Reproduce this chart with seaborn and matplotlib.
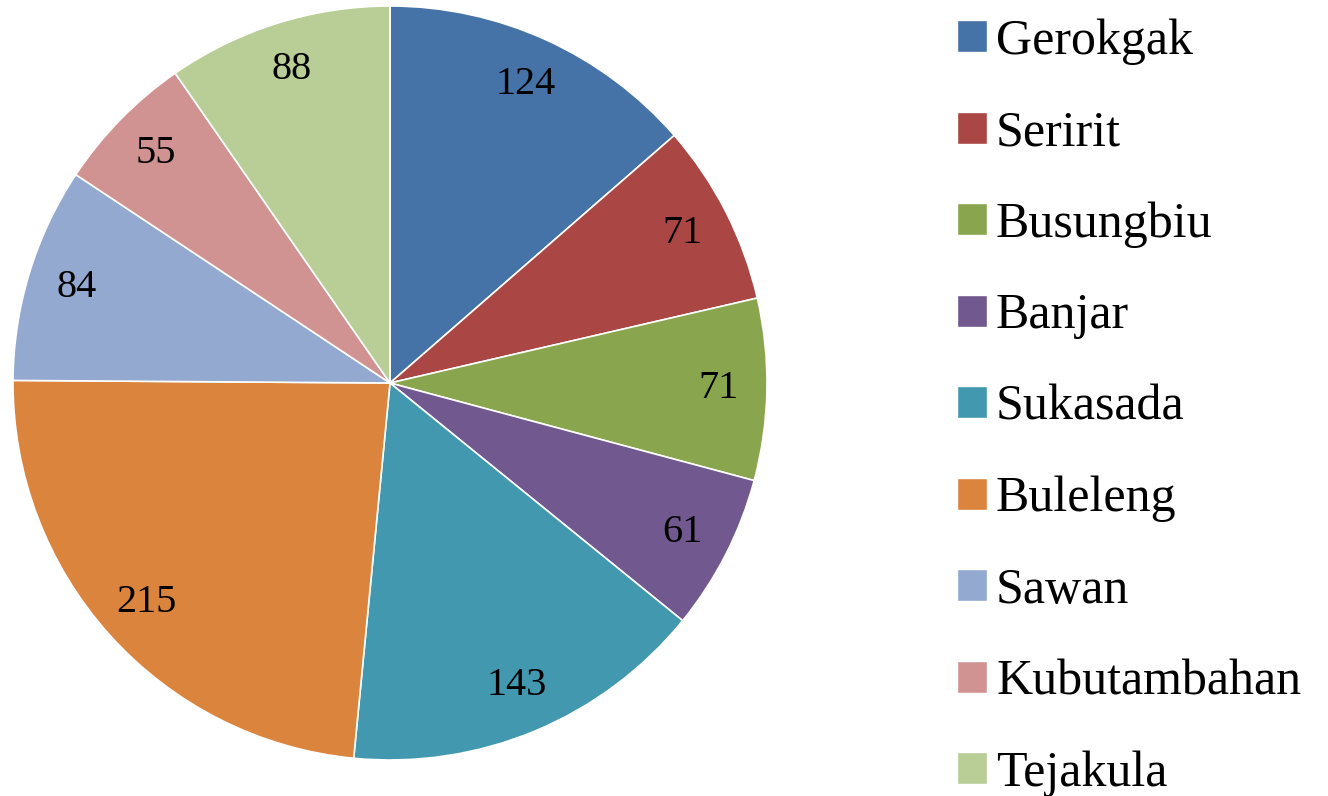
import matplotlib
matplotlib.use("Agg")
import matplotlib.pyplot as plt
import matplotlib.patches as mpatches
import seaborn as sns

sns.set_style("white")
plt.rcParams['font.family'] = ['Liberation Serif', 'DejaVu Serif']

# data
districts = ["Gerokgak", "Seririt", "Busungbiu", "Banjar", "Sukasada",
             "Buleleng", "Sawan", "Kubutambahan", "Tejakula"]
counts = [124, 71, 71, 61, 143, 215, 84, 55, 88]
colors = ["#4572A7", "#AA4643", "#89A54E", "#71588F", "#4198AF",
          "#DB843D", "#93A9CF", "#D19392", "#B9CD96"]

fig = plt.figure(figsize=(13.28, 7.96), dpi=100)
ax = fig.add_axes([13 / 1328, 36 / 796, 754 / 1328, 754 / 796])

total = sum(counts)
wedges, texts, autotexts = ax.pie(
    counts, colors=colors, startangle=90, counterclock=False,
    autopct=lambda p: f"{round(p * total / 100):d}", pctdistance=0.87,
    wedgeprops=dict(edgecolor="white", linewidth=1.2),
    textprops=dict(fontsize=29, color="black"))
ax.set_xlim(-1, 1)
ax.set_ylim(-1, 1)
ax.set_aspect("equal")

handles = [mpatches.Patch(facecolor=c, label=d) for c, d in zip(colors, districts)]
leg = fig.legend(handles=handles, loc="upper left", bbox_to_anchor=(937 / 1328, 1.002),
                 frameon=False, fontsize=36, handlelength=0.6, handleheight=0.6,
                 handletextpad=0.18, labelspacing=0.9, borderaxespad=0)
for t in leg.get_texts():
    t.set_color("black")

fig.savefig("out.png", dpi=100)
